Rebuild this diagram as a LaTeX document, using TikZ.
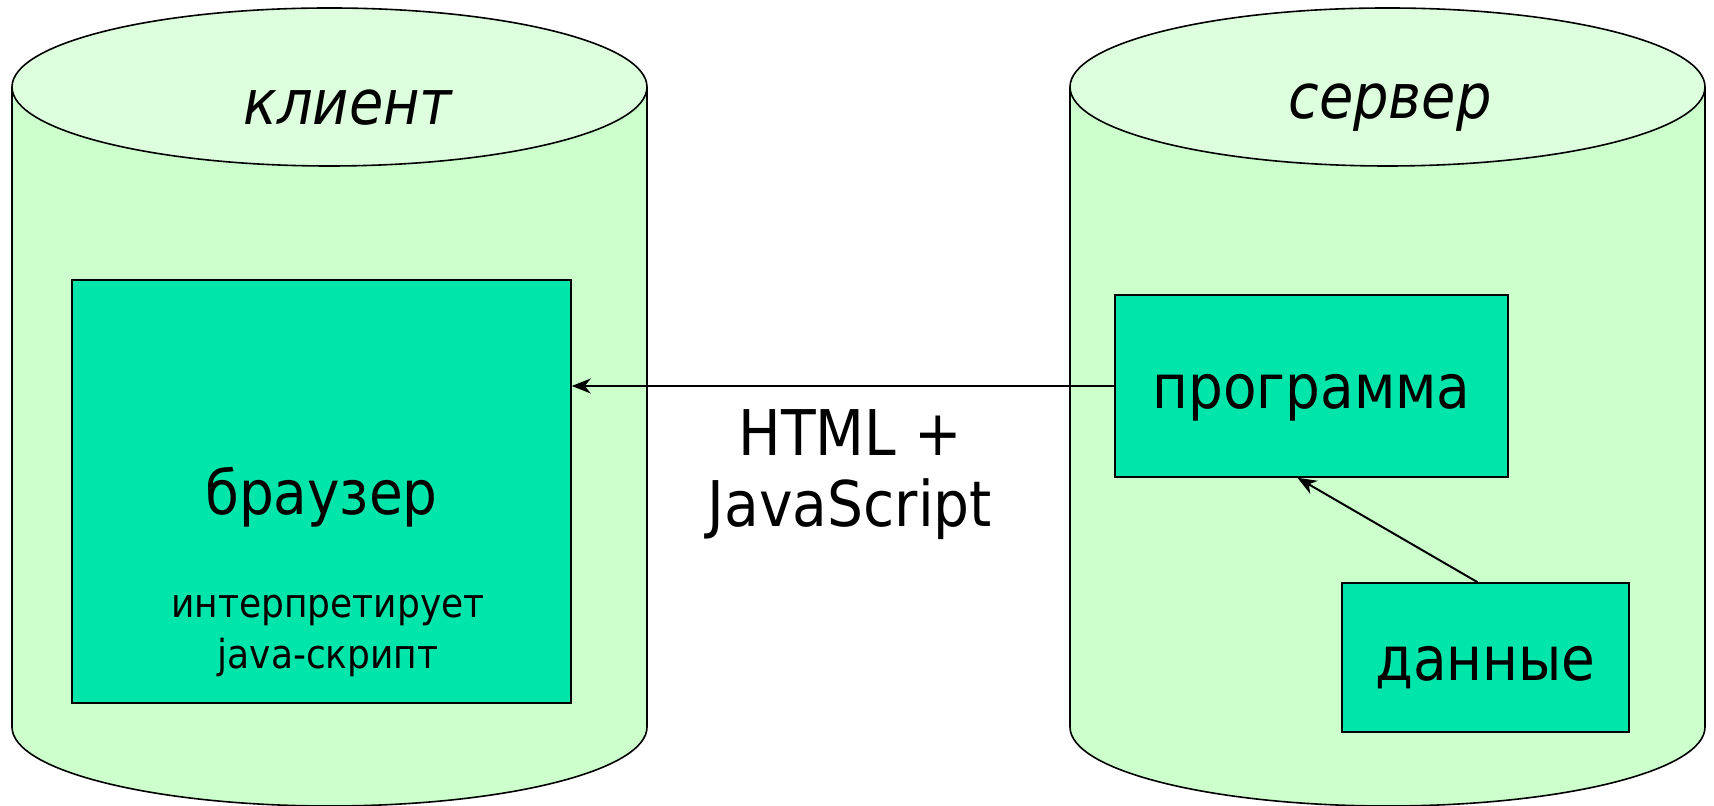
\documentclass[tikz,border=0pt]{standalone}
\usepackage{fontspec}
\setmainfont{DejaVu Sans Condensed}
\usetikzlibrary{arrows.meta, positioning}
\definecolor{cylbody}{HTML}{CCFFCC}
\definecolor{cyltop}{HTML}{DDFFDD}
\definecolor{boxfill}{HTML}{00E5AA}

\begin{document}
\begin{tikzpicture}[x=1pt, y=1pt, line width=1.6pt,
                    box/.style={draw, fill=boxfill, inner sep=0pt, text height=46pt, text depth=0pt},
                    bigtext/.style={font=\fontsize{61}{73}\selectfont},
                    smalltext/.style={font=\fontsize{40}{51}\selectfont, align=center, inner sep=0pt},
                    toptext/.style={font=\fontsize{62}{74}\selectfont\itshape},
                    arr/.style={line width=2pt, -{Stealth[length=19pt, width=15pt, inset=6pt]}}]
                    \useasboundingbox (0,0) rectangle (1714,806);
                    \foreach \cx in {329.5, 1387.5}{
                        \fill[cylbody] (\cx-317.5,719) -- (\cx-317.5,79) arc[start angle=180, end angle=360, x radius=317.5, y radius=79] -- (\cx+317.5,719) -- cycle;
                        \draw (\cx-317.5,719) -- (\cx-317.5,79) arc[start angle=180, end angle=360, x radius=317.5, y radius=79] -- (\cx+317.5,719);
                        \draw[fill=cyltop] (\cx,719) ellipse[x radius=317.5, y radius=79];
                    }
                    \node[toptext] (client) at (348,698) {клиент};
                    \node[toptext] (server) at (1390,698) {сервер};

                    \node[box, bigtext, minimum width=499pt, minimum height=423pt](browser) at (321.5,314.5) {браузер};
                    \node[smalltext](interp) at (328,170) {интерпретирует\\java-скрипт};

                    \node[box, bigtext, minimum width=393pt, minimum height=182pt](program) at (1311.5,420) {программа};
                    \node[box, bigtext, minimum width=287pt, minimum height=149pt](data) at (1485.5,148.5) {данные};
                    \node[align=center, font=\fontsize{63}{71}\selectfont](html) at (850,331) {HTML +\\JavaScript};

                    \draw[arr] (program.west) -- (program.west -| browser.east);
                    \draw[arr] ([xshift=-8pt]data.north) -- ([xshift=-14pt]program.south);
                \end{tikzpicture}
\end{document}
